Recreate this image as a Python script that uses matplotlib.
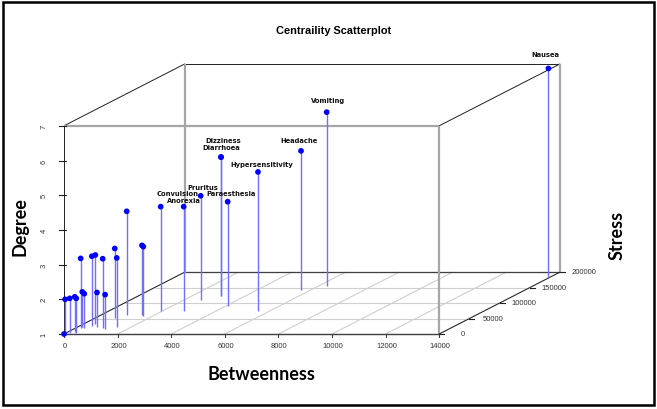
import matplotlib
matplotlib.use("Agg")
import matplotlib.pyplot as plt
from matplotlib.patches import Rectangle
import numpy as np

# node centrality values
names = ["", "", "", "", "", "", "", "", "", "", "", "", "", "", "", "", "", "",
         "Convulsion", "Anorexia", "Pruritus", "Dizziness", "Diarrhoea",
         "Paraesthesia", "Hypersensitivity", "Headache", "Vomiting", "Nausea"]
betweenness = [0, 40, 145, 220, 390, 170, 140, 350, 430, 470, 735, 1015, 1195,
               720, 1480, 985, 1510, 1650,
               1914, 2772, 2616, 3082, 3082, 4052, 5545, 5616, 6280, 13900]
stress = [0, 0, 3000, 8000, 3000, 20000, 24000, 18000, 27000, 31000, 22000,
          19000, 15000, 52000, 21600, 60000, 62000, 58000,
          75000, 75000, 110000, 123000, 123000, 91000, 75000, 143000, 156000,
          185000]
degree = [1, 2, 2, 2, 2, 3, 2, 2, 3, 3, 2, 3, 2, 3, 3, 4, 3, 3,
          4, 4, 4, 5, 5, 4, 5, 5, 6, 7]

x_ticks = [0, 2000, 4000, 6000, 8000, 10000, 12000, 14000]
y_ticks = [0, 50000, 100000, 150000, 200000]
z_ticks = [1, 2, 3, 4, 5, 6, 7]

# label offsets in pixels (layout only)
label_off = {"Convulsion": (17, 14), "Anorexia": (0, 7), "Pruritus": (2, 9),
             "Dizziness": (2, 17), "Diarrhoea": (0, 10),
             "Paraesthesia": (3, 9), "Hypersensitivity": (4, 8),
             "Headache": (-2, 11), "Vomiting": (1, 12), "Nausea": (-3, 14)}

W, H = 657, 410
PX_X = 0.0268          # pixels per betweenness unit
PX_Z = 34.7            # pixels per degree unit
X0, Z0 = 64, 335       # pixel position of the origin corner
DEPTH_DX, DEPTH_DY = 121, 62   # pixel shift of the full stress range
KX = (DEPTH_DX / PX_X) / 200000
KY = (DEPTH_DY / PX_Z) / 200000


def proj(b, s, d):
    b = np.asarray(b, float)
    s = np.asarray(s, float)
    d = np.asarray(d, float)
    return b + s * KX, d + s * KY


fig = plt.figure(figsize=(W / 100, H / 100), dpi=100)
ax = fig.add_axes([0, 0, 1, 1])
ax.set_xlim(-X0 / PX_X, (W - X0) / PX_X)
ax.set_ylim(1 - (H - Z0) / PX_Z, 1 + Z0 / PX_Z)
ax.axis("off")

xmin, xmax = x_ticks[0], x_ticks[-1]
ymin, ymax = y_ticks[0], y_ticks[-1]
zmin, zmax = z_ticks[0], z_ticks[-1]


def seg(p, q, **kw):
    a = proj(*p)
    b = proj(*q)
    ax.plot([a[0], b[0]], [a[1], b[1]], solid_capstyle="butt", **kw)


# grid on the floor
for s in y_ticks:
    seg((xmin, s, zmin), (xmax, s, zmin), color="#cfcfcf", lw=0.8, zorder=1)
for b in x_ticks:
    seg((b, ymin, zmin), (b, ymax, zmin), color="#cfcfcf", lw=0.8, zorder=1)

# box
dark = dict(color="#202020", lw=0.7, zorder=2)
grey = dict(color="#a6a6a6", lw=1.6, zorder=2)
seg((xmin, ymin, zmax), (xmin, ymax, zmax), **dark)
seg((xmin, ymax, zmax), (xmax, ymax, zmax), **dark)
seg((xmax, ymin, zmax), (xmax, ymax, zmax), **dark)
seg((xmin, ymin, zmin), (xmin, ymax, zmin), **dark)
seg((xmin, ymax, zmin), (xmax, ymax, zmin), color="#404040", lw=0.9, zorder=2)
seg((xmin, ymax, zmin), (xmin, ymax, zmax), **grey)
seg((xmax, ymax, zmin), (xmax, ymax, zmax), **grey)
seg((xmin, ymin, zmax), (xmax, ymin, zmax), **grey)
seg((xmax, ymin, zmin), (xmax, ymin, zmax), **grey)
seg((xmin, ymin, zmin), (xmin, ymin, zmax), **dark)
seg((xmin, ymin, zmin), (xmax, ymin, zmin), color="#404040", lw=1.0, zorder=2)
seg((xmax, ymin, zmin), (xmax, ymax, zmin), **dark)

# ticks and tick labels
tick_col = "#333333"
for b in x_ticks:
    px, pz = proj(b, ymin, zmin)
    ax.plot([px, px], [pz, pz - 3 / PX_Z], color="#404040", lw=0.8, zorder=2)
    ax.annotate(str(b), (px, pz), xytext=(1, -12), textcoords="offset pixels",
                ha="center", va="center", fontsize=5.5, color=tick_col,
                family="Liberation Sans")
for s in y_ticks:
    px, pz = proj(xmax, s, zmin)
    ax.plot([px, px + 5 / PX_X], [pz, pz], color="#202020", lw=0.8, zorder=2)
    ax.annotate(str(s), (px, pz), xytext=(24, 0), textcoords="offset pixels",
                ha="center", va="center", fontsize=5.5, color=tick_col,
                family="Liberation Sans")
for d in z_ticks:
    px, pz = proj(xmin, ymin, d)
    ax.plot([px - 5 / PX_X, px + 2 / PX_X], [pz, pz], color="#202020", lw=0.8,
            zorder=2)
    ax.annotate(str(d), (px, pz), xytext=(-20, 0), textcoords="offset pixels",
                ha="center", va="center", fontsize=5.5, color=tick_col,
                rotation=90, family="Liberation Sans")

# drop lines and points
px, pz = proj(betweenness, stress, degree)
_, pz0 = proj(betweenness, stress, np.full(len(degree), zmin))
ax.vlines(px, pz0, pz, color="#7070ff", lw=1.0, zorder=3)
ax.scatter(px, pz, s=17, color="blue", edgecolors="none", zorder=4)

for n, x, z in zip(names, px, pz):
    if n:
        dx, dy = label_off[n]
        ax.annotate(n, (x, z), xytext=(dx, dy), textcoords="offset pixels",
                    ha="center", va="center", fontsize=4.9, fontweight="bold",
                    color="#111111", family="DejaVu Sans", zorder=5)

# titles
fig.text(334 / W, 1 - 31 / H, "Centraility Scatterplot", ha="center",
         va="center", fontsize=7.9, fontweight="bold", family="Liberation Sans")
fig.text(261 / W, 1 - 375 / H, "Betweenness", ha="center", va="center",
         fontsize=13, fontweight="bold", family="Lato")
fig.text(20 / W, 1 - 227 / H, "Degree", ha="center", va="center",
         fontsize=13, fontweight="bold", family="Lato", rotation=90)
fig.text(617 / W, 1 - 235 / H, "Stress", ha="center", va="center",
         fontsize=13, fontweight="bold", family="Lato", rotation=90)

fig.patches.append(Rectangle((3 / W, 4 / H), 651 / W, 403 / H,
                             transform=fig.transFigure, fill=False,
                             edgecolor="black", lw=1.8))

fig.savefig("out.png", dpi=100)
